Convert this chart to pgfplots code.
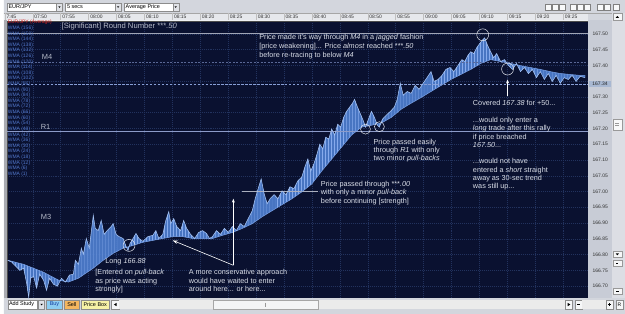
\documentclass[border=0pt]{standalone}
\usepackage{fontspec}
\setmainfont{Liberation Sans}
\usepackage{pgfplots}
\usepackage{pgfplotstable}
\pgfplotsset{compat=1.18}
\usepgfplotslibrary{fillbetween}
\usetikzlibrary{arrows.meta,patterns}

\definecolor{bg}{HTML}{0A1130}
\definecolor{gridc}{HTML}{22325E}
\definecolor{band}{HTML}{4F80D2}
\definecolor{bandpat}{HTML}{86AAEC}
\definecolor{bandhi}{HTML}{A6C4F4}
\definecolor{bandlo}{HTML}{78A0E6}
\definecolor{chrome}{HTML}{D3D6DD}
\definecolor{stripc}{HTML}{E6E8EC}
\definecolor{panel}{HTML}{C8CCD6}
\definecolor{scrollc}{HTML}{DCDEE4}
\definecolor{annot}{HTML}{DADEE8}
\definecolor{lbl}{HTML}{B4B9C8}
\definecolor{wma}{HTML}{5278CC}
\definecolor{eurred}{HTML}{D02424}
\definecolor{buyc}{RGB}{140,205,242}
\definecolor{buyt}{RGB}{20,60,160}
\definecolor{sellc}{RGB}{244,182,94}
\definecolor{pboxc}{RGB}{246,242,166}
\definecolor{hilite}{RGB}{168,184,210}
\definecolor{line50}{RGB}{160,165,182}
\definecolor{linem4}{RGB}{90,104,150}
\definecolor{linecur}{RGB}{135,158,214}
\definecolor{liner1}{RGB}{140,155,200}
\definecolor{line00}{RGB}{170,175,190}

\newcommand\uif{\fontsize{5.5}{6}\selectfont}
\newcommand\tinyf{\fontsize{5}{5}\selectfont}
\newcommand\af{\fontsize{7.3}{9}\selectfont}
\newcommand{\ann}[3]{\node[anchor=base west, inner sep=0pt, text=annot, font=\af] at (#1,#2) {#3};}

\pgfplotstableread{
t p
0.53 166.782
1.25 166.776
1.96 166.763
2.67 166.750
3.38 166.757
3.91 166.709
4.27 166.665
4.63 166.725
5.16 166.731
5.69 166.694
6.23 166.738
6.94 166.719
7.47 166.687
8.01 166.725
8.72 166.706
9.43 166.700
10.14 166.725
10.85 166.713
11.57 166.735
12.28 166.738
12.63 166.782
13.17 166.769
13.70 166.820
14.06 166.801
14.59 166.851
15.12 166.820
15.66 166.898
15.84 166.924
16.19 166.883
16.73 166.876
17.26 166.908
17.79 166.864
18.33 166.876
19.04 166.889
19.40 166.898
19.93 166.864
20.46 166.857
21.17 166.851
21.71 166.826
22.06 166.813
22.42 166.835
22.95 166.851
23.49 166.867
24.02 166.851
24.73 166.842
25.62 166.857
26.51 166.861
27.05 166.876
27.58 166.851
28.29 166.864
28.83 166.908
29.36 166.936
29.72 166.898
30.25 166.914
30.78 166.889
31.49 166.876
32.03 166.908
32.56 166.883
33.27 166.864
33.99 166.851
34.70 166.870
35.41 166.876
36.12 166.867
36.65 166.851
37.19 166.857
37.90 166.876
38.61 166.864
39.32 166.883
40.04 166.870
40.75 166.889
41.46 166.876
42.17 166.898
42.88 166.889
43.59 166.914
44.31 166.939
44.84 166.977
45.37 167.009
45.91 167.040
46.44 166.993
46.98 166.961
47.51 166.977
48.22 166.990
48.93 166.977
49.64 167.002
50.36 166.990
51.07 167.015
51.78 167.009
52.49 167.034
53.20 167.046
53.74 167.078
54.27 167.103
54.80 167.065
55.34 167.087
55.87 167.116
56.41 167.150
56.94 167.135
57.47 167.172
58.01 167.166
58.54 167.198
59.07 167.179
59.61 167.213
60.14 167.204
60.68 167.235
61.21 167.254
61.74 167.267
62.28 167.280
62.63 167.292
63.17 167.267
63.70 167.245
64.23 167.223
64.59 167.204
65.12 167.229
65.66 167.254
66.19 167.235
66.73 167.210
67.08 167.204
67.62 167.229
68.33 167.242
69.04 167.254
69.75 167.267
70.28 167.292
70.82 167.343
71.35 167.305
72.06 167.317
72.78 167.311
73.49 167.336
74.20 167.324
74.91 167.343
75.62 167.361
76.33 167.380
76.87 167.349
77.58 167.355
78.29 167.368
79.00 167.387
79.72 167.393
80.43 167.380
81.14 167.399
81.85 167.418
82.38 167.412
82.92 167.431
83.45 167.443
83.99 167.437
84.52 167.456
85.05 167.469
85.59 167.481
85.94 167.487
86.48 167.462
87.01 167.443
87.54 167.424
88.08 167.437
88.79 167.412
89.50 167.418
90.21 167.399
90.93 167.387
91.64 167.406
92.35 167.380
93.06 167.393
93.77 167.374
94.48 167.387
95.20 167.361
95.91 167.380
96.62 167.355
97.33 167.374
98.04 167.349
98.75 167.368
99.47 167.343
100.18 167.361
100.89 167.355
101.60 167.368
102.31 167.349
103.02 167.365
103.91 167.361
}\fastdata

\pgfplotstableread{
t p
0.53 166.782
3.38 166.769
6.94 166.744
9.61 166.719
11.39 166.713
13.17 166.725
15.84 166.757
17.62 166.782
19.40 166.804
21.17 166.820
22.95 166.829
24.73 166.839
26.51 166.845
28.29 166.851
30.07 166.857
31.85 166.857
33.63 166.851
35.41 166.851
37.19 166.851
38.97 166.861
40.75 166.870
42.53 166.883
44.31 166.898
46.09 166.920
47.86 166.939
49.64 166.958
51.42 166.977
53.20 166.999
54.98 167.024
56.76 167.065
58.54 167.103
60.32 167.141
62.10 167.179
63.88 167.204
65.66 167.210
67.44 167.217
69.22 167.235
71.00 167.261
72.78 167.280
74.56 167.298
76.33 167.317
78.11 167.336
79.89 167.355
81.67 167.371
83.45 167.387
85.23 167.406
87.01 167.418
88.79 167.412
90.57 167.406
92.35 167.399
94.13 167.393
95.91 167.387
97.69 167.380
99.47 167.374
101.25 167.371
103.02 167.368
103.91 167.368
}\slowdata

\begin{document}
\begin{tikzpicture}
\begin{scope}[x=1pt,y=-1pt]
\useasboundingbox (0,0) rectangle (625,316);
\fill[chrome, even odd rule] (0,0) rectangle (625,316) (3,20.5) rectangle (588,300);
\end{scope}

\begin{axis}[
  at={(3pt,-300pt)}, anchor=south west,
  scale only axis, width=585pt, height=279pt,
  xmin=0.356, xmax=104.45, ymin=166.6622, ymax=167.5409,
  axis background/.style={fill=bg},
  axis line style={draw=black!70, line width=0.4pt},
  xtick={0,5,10,15,20,25,30,35,40,45,50,55,60,65,70,75,80,85,90,95,100},
  xticklabels={},
  ytick={166.70,166.75,166.80,166.85,166.90,166.95,167.00,167.05,167.10,167.15,167.20,167.25,167.30,167.35,167.40,167.45,167.50},
  yticklabels={},
  major tick length=0pt,
  grid=major,
  major grid style={gridc, line width=0.45pt, dash pattern=on 1pt off 1pt},
]
% reference lines
\addplot[draw=line50, line width=0.6pt] coordinates {(0.356,167.50) (104.45,167.50)};
\addplot[draw=linem4, line width=0.45pt, dash pattern=on 2pt off 1.5pt] coordinates {(0.356,167.41) (104.45,167.41)};
\addplot[draw=linecur, line width=0.55pt, dash pattern=on 2.5pt off 1.5pt] coordinates {(0.356,167.34) (104.45,167.34)};
\addplot[draw=liner1, line width=0.55pt] coordinates {(0.356,167.19) (104.45,167.19)};
\addplot[draw=line00, line width=0.55pt] coordinates {(42.53,167.00) (56.05,167.00)};
% price ribbon
\addplot[draw=none, name path=hi] table[x=t,y=p]{\fastdata};
\addplot[draw=none, name path=lo] table[x=t,y=p]{\slowdata};
\addplot[band, fill opacity=0.9] fill between[of=hi and lo];
\addplot[pattern=vertical lines, pattern color=bandpat] fill between[of=hi and lo];
\addplot[bandlo, line width=0.5pt] table[x=t,y=p]{\slowdata};
\addplot[bandhi, line width=0.55pt] table[x=t,y=p]{\fastdata};
\end{axis}

\begin{scope}[x=1pt,y=-1pt]
% combo boxes
\draw[black!45, fill=white] (3,3) rectangle (53,11);
\draw[black!45, fill=chrome!70!white] (53,3) rectangle (59,11);
\fill[black] (54.8,6.3) -- (57.2,6.3) -- (56,7.9) -- cycle;
\node[anchor=west, inner sep=0pt, font=\uif] at (4.5,7) {EUR/JPY};
\draw[black!45, fill=white] (62,3) rectangle (112,11);
\draw[black!45, fill=chrome!70!white] (112,3) rectangle (118,11);
\fill[black] (113.8,6.3) -- (116.2,6.3) -- (115,7.9) -- cycle;
\node[anchor=west, inner sep=0pt, font=\uif] at (63.5,7) {5 secs};
\draw[black!45, fill=white] (121,3) rectangle (170,11);
\draw[black!45, fill=chrome!70!white] (170,3) rectangle (176,11);
\fill[black] (171.8,6.3) -- (174.2,6.3) -- (173,7.9) -- cycle;
\node[anchor=west, inner sep=0pt, font=\uif] at (122.5,7) {Average Price};
% top-right icons
\foreach \ix in {545,552,559,570,577,584,597,604,613}{
  \draw[black!50, fill=white!85!chrome] (\ix,4.5) rectangle ({\ix+6},10.5);
}
% time strip
\fill[stripc] (0,13) rectangle (588,20.5);
\draw[black!35] (0,13) -- (625,13);
\foreach \k/\lab in {0/7:45,1/07:50,2/07:55,3/08:00,4/08:05,5/08:10,6/08:15,7/08:20,8/08:25,9/08:30,10/08:35,11/08:40,12/08:45,13/08:50,14/08:55,15/09:00,16/09:05,17/09:10,18/09:15,19/09:20,20/09:25}{
  \pgfmathsetmacro\xx{1+28.1*\k}
  \draw[black!25] (\xx,13) -- (\xx,20.5);
  \node[anchor=west, inner sep=0pt, font=\tinyf, text=black!80] at ({\xx+1.5},16.8) {\lab};
}
% right panel and scrollbar
\fill[panel] (588.3,20.5) rectangle (612,300);
\foreach \p in {166.70,166.75,166.80,166.85,166.90,166.95,167.00,167.05,167.10,167.15,167.20,167.25,167.30,167.40,167.45,167.50}{
  \pgfmathsetmacro\yy{34+(167.50-\p)*317.5}
  \node[anchor=west, inner sep=0pt, font=\tinyf, text=black!80] at (592.5,\yy) {\p};
}
\fill[hilite] (588.5,81.5) rectangle (611.5,88);
\node[font=\tinyf, text=black!85] at (600,84.8) {167.34};
\fill[scrollc] (612,13) rectangle (625,300);
\draw[black!40, fill=white!80!chrome] (613,13.5) rectangle (622,20);
\fill[black] (615.8,18) -- (619.2,18) -- (617.5,16) -- cycle;
\draw[black!40, fill=white!85!chrome] (613,120) rectangle (622,131);
\draw[black!40] (615.5,124.5) -- (619.5,124.5) (615.5,126.5) -- (619.5,126.5);
\draw[black!40, fill=white!80!chrome] (613,253) rectangle (622,259);
\draw[black!40, fill=white!80!chrome] (613,262) rectangle (622,268);
\draw[black!40, fill=white!80!chrome] (613,290) rectangle (622,296);
\fill[black] (615.8,255) -- (619.2,255) -- (617.5,257) -- cycle;
\fill[black] (616.5,265) rectangle (618.5,266);
\fill[black] (616,292.5) rectangle (619,293.3);
% left gray edge
\fill[chrome!80!black] (0,20.5) rectangle (2.8,300);
% bottom bar
\draw[black!45, fill=white] (4,302) rectangle (34,311);
\node[anchor=west, inner sep=0pt, font=\uif] at (5,306.5) {Add Study};
\draw[black!45, fill=chrome!70!white] (35,302) rectangle (41,311);
\fill[black] (36.8,305.8) -- (39.2,305.8) -- (38,307.4) -- cycle;
\draw[black!45, fill=buyc] (43,302) rectangle (59,311);
\node[font=\uif, text=buyt] at (51,306.5) {Buy};
\draw[black!45, fill=sellc] (61,302) rectangle (76,311);
\node[font=\uif] at (68.5,306.5) {Sell};
\draw[black!45, fill=pboxc] (78,302) rectangle (106,311);
\node[font=\uif] at (92,306.5) {Price Box};
\draw[black!45, fill=white!80!chrome] (108,302) rectangle (116,311);
\fill[black] (113.5,304.8) -- (113.5,308.2) -- (110.8,306.5) -- cycle;
\fill[black!8] (116,302) rectangle (565,311);
\draw[black!35, fill=white!75!chrome] (211,302) rectangle (316,311);
\draw[black!40] (263,304.5) -- (263,308.5);
\draw[black!45, fill=white!80!chrome] (565,302) rectangle (572,311);
\fill[black] (567.5,304.8) -- (567.5,308.2) -- (570.2,306.5) -- cycle;
\draw[black!45, fill=white!80!chrome] (575,302) rectangle (582,311);
\fill[black] (576.8,306.1) rectangle (580.2,306.9);
\fill[black!8] (582,302) rectangle (606,311);
\draw[black!45, fill=white!80!chrome] (606,302) rectangle (613,311);
\fill[black] (607.8,306.1) rectangle (611.2,306.9);
\fill[black] (609.1,304.8) rectangle (609.9,308.2);
\draw[black!45, fill=white!80!chrome] (616,302) rectangle (623,311);
\node[font=\tinyf] at (619.5,306.5) {R};
% indicator list
\node[anchor=west, inner sep=0pt, font=\tinyf, text=eurred] at (3.8,22.8) {EUR/JPY (Average)};
\foreach \w [count=\i from 0] in {156,150,144,138,132,126,120,114,108,102,96,90,84,78,72,66,60,54,48,42,36,30,24,18,12,6,1}{
  \node[anchor=west, inner sep=0pt, font=\tinyf, text=wma] at (3.8,{28.3+5.65*\i}) {WMA (\w)};
}
% level labels
\node[anchor=base west, inner sep=0pt, font=\fontsize{7.5}{9}\selectfont, text=lbl] at (38,60) {M4};
\node[anchor=base west, inner sep=0pt, font=\fontsize{7.5}{9}\selectfont, text=lbl] at (37,130) {R1};
\node[anchor=base west, inner sep=0pt, font=\fontsize{7.5}{9}\selectfont, text=lbl] at (37,221) {M3};
\node[anchor=base west, inner sep=0pt, font=\fontsize{7.7}{9}\selectfont, text=lbl] at (58,29) {[Significant] Round Number ***\textit{.50}};
% annotations
\ann{257}{40}{Price made it's way through \textit{M4} in a \textit{jagged} fashion}
\ann{257}{49}{[price weakening]... Price \textit{almost} reached ***\textit{.50}}
\ann{257}{58}{before re-tracing to below \textit{M4}}
\ann{472}{106}{Covered \textit{167.38} for +50...}
\ann{472}{123}{...would only enter a}
\ann{472}{131.5}{\textit{long} trade after this rally}
\ann{472}{140}{if price breached}
\ann{472}{148.5}{\textit{167.50}...}
\ann{472}{165}{...would not have}
\ann{472}{173.3}{entered a \textit{short} straight}
\ann{472}{181.7}{away as 30-sec trend}
\ann{472}{190}{was still up...}
\ann{372}{145}{Price passed easily}
\ann{372}{153.3}{through \textit{R1} with only}
\ann{372}{161.7}{two minor \textit{pull-backs}}
\ann{319}{187.5}{Price passed through ***\textit{.00}}
\ann{319}{196}{with only a minor \textit{pull-back}}
\ann{319}{204.7}{before continuing [strength]}
\ann{102}{265.5}{Long \textit{166.88}}
\ann{92}{276.5}{[Entered on \textit{pull-back}}
\ann{92}{285}{as price was acting}
\ann{92}{293.3}{strongly]}
\ann{186}{276.5}{A more conservative approach}
\ann{186}{285}{would have waited to enter}
\ann{186}{293.3}{around here... or here...}
% circles
\draw[annot!80, line width=0.5pt] (482,35) circle (6pt);
\draw[annot!80, line width=0.5pt] (507,69.5) circle (6pt);
\draw[annot!80, line width=0.5pt] (364,130) circle (5pt);
\draw[annot!80, line width=0.5pt] (378,127.5) circle (5pt);
\draw[annot!80, line width=0.5pt] (126,247) circle (6pt);
% arrows
\draw[white, line width=0.6pt, -{Stealth[length=4pt,width=3pt]}] (507,97) -- (507,80);
\draw[white, line width=0.6pt, -{Stealth[length=4pt,width=3pt]}] (231,267) -- (231,200);
\draw[white, line width=0.6pt, -{Stealth[length=5pt,width=3.5pt]}] (231,267) -- (170,242);
\end{scope}
\end{tikzpicture}
\end{document}
